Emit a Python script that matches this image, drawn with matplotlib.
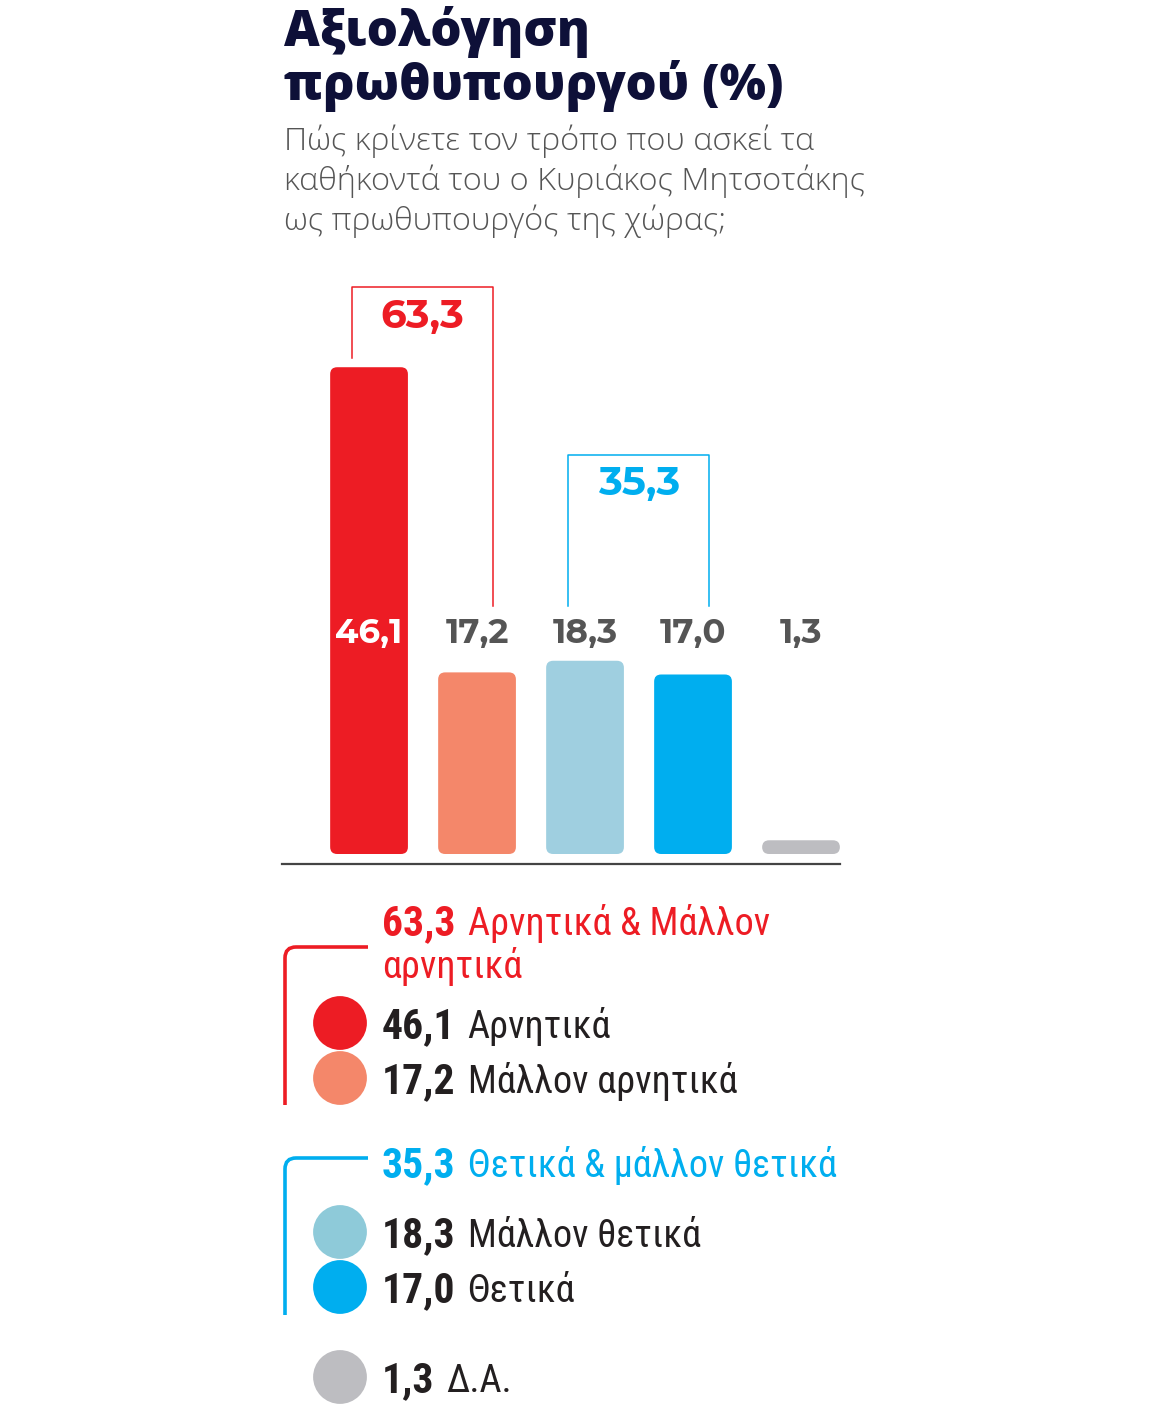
import matplotlib
matplotlib.use("Agg")
import matplotlib.pyplot as plt
from matplotlib.patches import FancyBboxPatch, PathPatch
from matplotlib.path import Path

# data
categories = ["Αρνητικά", "Μάλλον αρνητικά", "Μάλλον θετικά", "Θετικά", "Δ.Α."]
values = [46.1, 17.2, 18.3, 17.0, 1.3]
value_labels = ["46,1", "17,2", "18,3", "17,0", "1,3"]
bar_colors = ["#ed1c24", "#f4876a", "#9fcfe0", "#00aeef", "#bdbdc1"]
legend_colors = ["#ed1c24", "#f4876a", "#8ecad9", "#00aeef", "#bdbdc1"]

group_members = [(0, 1), (2, 3)]
group_totals = ["63,3", "35,3"]
group_names = [["Αρνητικά & Μάλλον", "αρνητικά"], ["Θετικά & μάλλον θετικά"]]
group_colors = ["#ed1c24", "#00aeef"]

title_lines = ["Αξιολόγηση", "πρωθυπουργού (%)"]
subtitle_lines = ["Πώς κρίνετε τον τρόπο που ασκεί τα",
                  "καθήκοντά του ο Κυριάκος Μητσοτάκης",
                  "ως πρωθυπουργός της χώρας;"]

W, H = 1168, 1407
fig = plt.figure(figsize=(W / 100, H / 100), dpi=100)
fig.patch.set_facecolor("white")

num_font = ["Montserrat Alternates", "DejaVu Sans"]
cond = ["Roboto Condensed", "DejaVu Sans"]

# ---- bar chart ----
ax = fig.add_axes([282 / W, 1 - 864 / H, (840 - 282) / W, (864 - 280) / H])
ax.set_xlim(-0.806, 4.361)
ax.set_ylim(-0.947, 54.36)
for s in ["top", "left", "right"]:
    ax.spines[s].set_visible(False)
ax.spines["bottom"].set_color("#444444")
ax.spines["bottom"].set_linewidth(1.6)
ax.set_xticks([])
ax.set_yticks([])

for i, v in enumerate(values):
    ax.add_patch(FancyBboxPatch((i - 0.36, 0), 0.72, v,
                                boxstyle="round,pad=0,rounding_size=0.065",
                                mutation_aspect=10.2, fc=bar_colors[i], ec="none"))
    ax.text(i, 20.9, value_labels[i], ha="center", va="center", fontsize=24.5,
            fontweight=700, family=num_font,
            color="white" if i == 0 else "#555555")

bracket_tops = [53.7, 37.8]
for g, (a, b) in enumerate(group_members):
    xl, xr = a - 0.155, b + 0.15
    yl = max(values[a] + 0.9, 23.5)
    yr = max(values[b] + 0.9, 23.5)
    top = bracket_tops[g]
    ax.plot([xl, xl, xr, xr], [yl, top, top, yr], color=group_colors[g],
            lw=1.1, solid_joinstyle="round")
    ax.text((xl + xr) / 2, top - 2.8, group_totals[g], ha="center", va="center",
            fontsize=29, fontweight=700, family=num_font, color=group_colors[g])

# ---- overlay in pixel coordinates for titles and legend ----
ov = fig.add_axes([0, 0, 1, 1])
ov.set_xlim(0, W)
ov.set_ylim(H, 0)
ov.axis("off")
ov.patch.set_visible(False)

navy = "#0e1038"
ov.text(284, 46, title_lines[0], fontsize=35.5, fontweight=800, fontstretch="normal",
        family="Open Sans", color=navy, va="baseline")
ov.text(284, 100, title_lines[1], fontsize=35.2, fontweight=800, fontstretch="normal",
        family="Open Sans", color=navy, va="baseline")
for k, line in enumerate(subtitle_lines):
    ov.text(284, 150 + 40 * k, line, fontsize=23.4, fontweight=300,
            fontstretch="normal", family="Open Sans", color="#555555",
            va="baseline")

renderer = fig.canvas.get_renderer()
dark = "#231f20"


def two_part(x, y, num, label, color_num, color_lbl):
    t = ov.text(x, y, num, fontsize=30, fontweight=700, family=cond,
                color=color_num, va="baseline")
    bb = t.get_window_extent(renderer)
    ov.text(bb.x1 + 12, y, label, fontsize=27.5, fontweight=400, family=cond,
            color=color_lbl, va="baseline")


# group headers and brackets
header_y = [935, 1177]
bracket_y = [(947, 1105), (1158, 1315)]
for g in range(2):
    two_part(382, header_y[g], group_totals[g], group_names[g][0],
             group_colors[g], group_colors[g])
    if len(group_names[g]) > 1:
        ov.text(382, header_y[g] + 43, group_names[g][1], fontsize=27.5,
                family=cond, color=group_colors[g], va="baseline")
    y0, y1 = bracket_y[g]
    verts = [(368, y0), (296, y0), (285, y0), (285, y0 + 11), (285, y1)]
    codes = [Path.MOVETO, Path.LINETO, Path.CURVE3, Path.CURVE3, Path.LINETO]
    ov.add_patch(PathPatch(Path(verts, codes), fc="none", ec=group_colors[g],
                           lw=2.6, capstyle="butt"))

row_centers = [1023, 1078, 1232, 1287, 1377]
for i in range(len(values)):
    ov.scatter([340], [row_centers[i]], s=1500, color=legend_colors[i],
               edgecolors="none", zorder=3)
    two_part(382, row_centers[i] + 15, value_labels[i], categories[i], dark, dark)

fig.savefig("out.png", dpi=100, facecolor="white")
